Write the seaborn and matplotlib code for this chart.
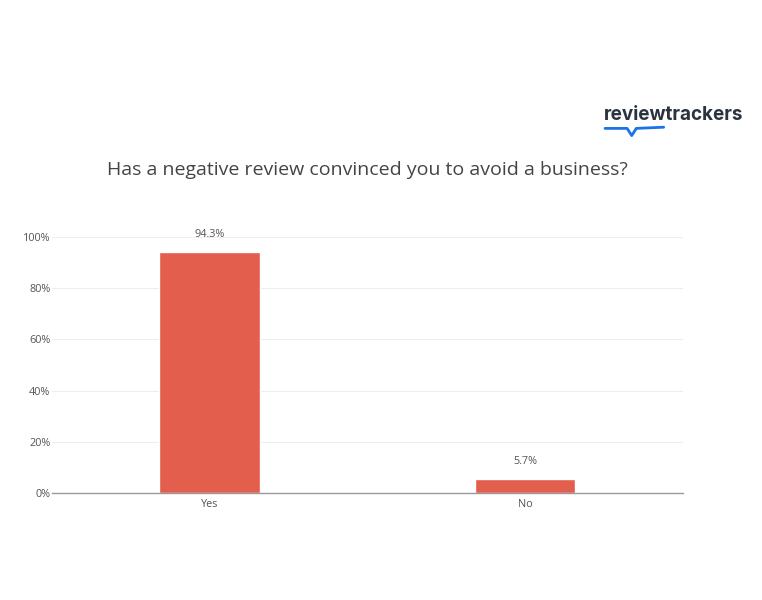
import pandas as pd
import seaborn as sns
from matplotlib import pyplot as plt
from matplotlib.ticker import PercentFormatter

answers = ["Yes", "No"]
shares = [94.3, 5.7]
value_labels = ["94.3%", "5.7%"]

df = pd.DataFrame({"answer": answers, "share": shares})

sns.set_theme(style="white")
plt.rcParams["font.family"] = ["Open Sans", "DejaVu Sans"]

fig = plt.figure(figsize=(7.62, 6), dpi=100)
ax = fig.add_axes([0.068, 0.178, 0.828, 0.427])

sns.barplot(data=df, x="answer", y="share", color="#e35e4c", saturation=1,
            width=0.32, ax=ax)

for i, lab in enumerate(value_labels):
    ax.text(i, shares[i] + 4.5, lab, ha="center", va="bottom",
            fontsize=7.8, color="#555555")

ax.set_xlim(-0.5, 1.5)
ax.set_ylim(0, 100)
ax.set_yticks([0, 20, 40, 60, 80, 100])
ax.yaxis.set_major_formatter(PercentFormatter(decimals=0))
ax.grid(axis="y", color="#eeeeee", linewidth=0.8)
ax.set_axisbelow(True)
ax.tick_params(axis="both", labelsize=7.8, colors="#555555", length=0, pad=4)
ax.tick_params(axis="y", pad=1)
for s in ["top", "right", "left"]:
    ax.spines[s].set_visible(False)
ax.spines["bottom"].set_color("#999999")
ax.spines["bottom"].set_linewidth(1)
ax.set_xlabel("")
ax.set_ylabel("")

fig.text(0.482, 0.716, "Has a negative review convinced you to avoid a business?",
         ha="center", va="center", fontsize=14, color="#444444")

# logo
fig.text(0.792, 0.808, "reviewtrackers", ha="left", va="center",
         fontsize=13.6, fontweight="bold", color="#2b3340",
         family=["Inter", "DejaVu Sans"])
fig.add_artist(plt.Line2D([0.794, 0.823, 0.829, 0.835, 0.871],
                          [0.786, 0.786, 0.774, 0.786, 0.788],
                          transform=fig.transFigure, color="#1a73e8",
                          linewidth=2, solid_capstyle="round"))

plt.savefig("out.png", dpi=100)
